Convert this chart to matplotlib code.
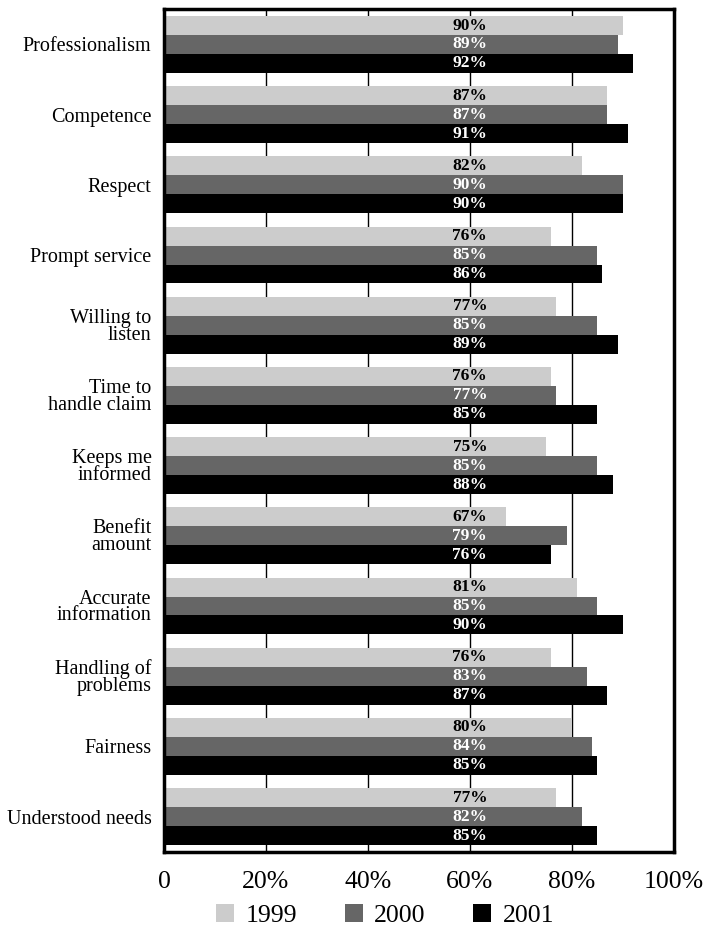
import numpy as np
import matplotlib.pyplot as plt
from matplotlib.patches import Patch

# DATOS
categorias = ["Professionalism", "Competence", "Respect", "Prompt service",
              "Willing to\nlisten", "Time to\nhandle claim", "Keeps me\ninformed",
              "Benefit\namount", "Accurate\ninformation", "Handling of\nproblems",
              "Fairness", "Understood needs"]
v1999 = [90, 87, 82, 76, 77, 76, 75, 67, 81, 76, 80, 77]
v2000 = [89, 87, 90, 85, 85, 77, 85, 79, 85, 83, 84, 82]
v2001 = [92, 91, 90, 86, 89, 85, 88, 76, 90, 87, 85, 85]
series = ["1999", "2000", "2001"]
ticks = [0, 20, 40, 60, 80, 100]
tick_labels = ["0", "20%", "40%", "60%", "80%", "100%"]

plt.rcParams["font.family"] = ["Liberation Serif", "DejaVu Serif"]

colores = ["#cccccc", "#666666", "#000000"]
colores_texto = ["black", "white", "white"]

fig = plt.figure(figsize=(7.04, 9.39), dpi=100)
ax = fig.add_axes([0.233, 0.093, 0.724, 0.897])

y = np.arange(len(categorias))
h = 0.27
for i, vals in enumerate([v1999, v2000, v2001]):
    pos = y + (i - 1) * h
    ax.barh(pos, vals, height=h, color=colores[i], zorder=2)
    for p, v in zip(pos, vals):
        ax.text(60, p, f"{v}%", ha="center", va="center", fontsize=12.5,
                fontweight="bold", color=colores_texto[i], zorder=3)

ax.set_xlim(0, 100)
ax.set_ylim(len(categorias) - 0.5, -0.5)
ax.set_yticks(y)
ax.set_yticklabels(categorias, fontsize=14.5, linespacing=0.85)
ax.set_xticks(ticks)
ax.set_xticklabels(tick_labels, fontsize=18.5)
ax.tick_params(axis="both", length=0)
ax.tick_params(axis="x", pad=14)
ax.tick_params(axis="y", pad=9)
for x in ticks[1:-1]:
    ax.axvline(x, color="black", linewidth=1, zorder=1)
for s in ax.spines.values():
    s.set_linewidth(2.5)

handles = [Patch(facecolor=c, label=s) for c, s in zip(colores, series)]
fig.legend(handles=handles, loc="lower center", ncol=3, frameon=False,
           fontsize=18.5, bbox_to_anchor=(0.547, -0.012), handlelength=0.7,
           handleheight=0.7, columnspacing=1.85, handletextpad=0.45)

fig.savefig("out.png", dpi=100)
